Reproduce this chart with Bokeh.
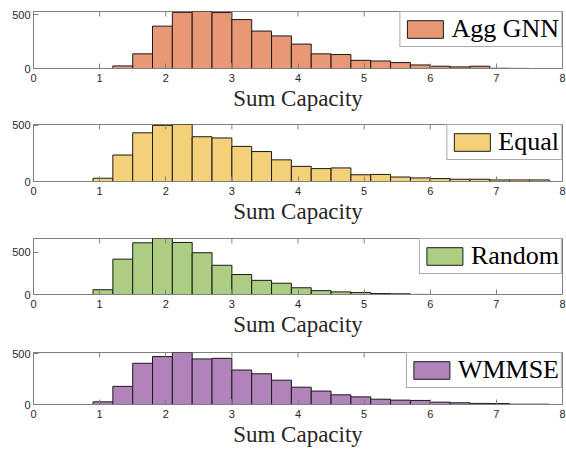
import math
from bokeh.plotting import figure
from bokeh.models import Range1d, FixedTicker, Legend, LegendItem, ColumnDataSource
from bokeh.layouts import column
from bokeh.embed import file_html
from bokeh.resources import INLINE

bin_left = [0.0, 0.3, 0.6, 0.9, 1.2, 1.5, 1.8, 2.1, 2.4, 2.7, 3.0, 3.3, 3.6,
            3.9, 4.2, 4.5, 4.8, 5.1, 5.4, 5.7, 6.0, 6.3, 6.6, 6.9, 7.2, 7.5]
bin_right = [0.3, 0.6, 0.9, 1.2, 1.5, 1.8, 2.1, 2.4, 2.7, 3.0, 3.3, 3.6, 3.9,
             4.2, 4.5, 4.8, 5.1, 5.4, 5.7, 6.0, 6.3, 6.6, 6.9, 7.2, 7.5, 7.8]

agg_gnn = [0, 0, 0, 0, 24, 136, 394, 522, 530, 520, 455, 348, 303,
           227, 136, 130, 76, 70, 55, 33, 21, 15, 21, 2, 1, 0]
equal = [0, 0, 0, 29, 236, 434, 500, 508, 399, 388, 313, 267, 193,
         135, 115, 121, 60, 63, 40, 32, 26, 20, 20, 14, 14, 14]
random_ = [0, 0, 0, 57, 420, 614, 665, 618, 496, 347, 237, 168, 134,
           80, 46, 31, 23, 11, 8, 1, 0, 0, 0, 0, 0, 0]
wmmse = [0, 0, 0, 26, 178, 405, 471, 511, 448, 454, 339, 302, 239,
         170, 132, 95, 75, 52, 43, 40, 23, 17, 11, 9, 3, 3]

series_names = ["Agg GNN", "Equal", "Random", "WMMSE"]
series_vals = [agg_gnn, equal, random_, wmmse]
colors = ["#E89875", "#F4D079", "#ADCD83", "#B282BB"]
y_max = [530, 508, 665, 511]
x_ticks = [0, 1, 2, 3, 4, 5, 6, 7, 8]
y_ticks = [0, 500]
x_lo, x_hi = 0, 8

# layout: (top border, bottom border, height)
geom = [(11, 43, 113), (11, 44, 113), (12, 43, 113), (13, 38, 110)]

AX = "#808080"
TXT = "#262626"

panels = []
for name, vals, col, ym, (T, B, H) in zip(series_names, series_vals, colors, y_max, geom):
    p = figure(width=566, height=H, x_range=Range1d(x_lo, x_hi), y_range=Range1d(0, ym),
               output_backend="svg", toolbar_location=None,
               min_border_left=33, min_border_right=4,
               min_border_top=T, min_border_bottom=B)
    src = ColumnDataSource(dict(left=bin_left, right=bin_right, top=vals))
    r = p.quad(left="left", right="right", bottom=0, top="top", source=src,
               fill_color=col, line_color="#1a1a1a", line_width=1)
    p.xgrid.visible = False
    p.ygrid.visible = False
    p.outline_line_color = AX
    p.outline_line_width = 1

    p.xaxis.ticker = FixedTicker(ticks=x_ticks)
    p.yaxis.ticker = FixedTicker(ticks=y_ticks)
    for ax in (p.xaxis[0], p.yaxis[0]):
        ax.axis_line_color = AX
        ax.major_tick_in = 5
        ax.major_tick_out = 0
        ax.major_tick_line_color = AX
        ax.minor_tick_line_color = None
        ax.major_label_text_font = "Liberation Sans"
        ax.major_label_text_font_size = "11px"
        ax.major_label_text_color = TXT
    p.xaxis.major_label_standoff = 5
    p.yaxis.major_label_standoff = 3
    p.xaxis.axis_label = "Sum Capacity"
    p.xaxis.axis_label_text_font = "Liberation Serif"
    p.xaxis.axis_label_text_font_style = "normal"
    p.xaxis.axis_label_text_font_size = "23px"
    p.xaxis.axis_label_text_color = TXT
    p.xaxis.axis_label_standoff = 1

    # inward tick marks on the top and right edges of the box (clipped half-dashes)
    p.scatter(x=x_ticks, y=[ym] * len(x_ticks), marker="dash", size=10,
              angle=math.pi / 2, line_color=AX, line_width=1)
    p.scatter(x=[x_hi] * len(y_ticks), y=y_ticks, marker="dash", size=10,
              line_color=AX, line_width=1)

    leg = Legend(items=[LegendItem(label=name, renderers=[r])], location="top_right",
                 margin=0, padding=2, spacing=0, label_standoff=4,
                 glyph_width=45, glyph_height=22,
                 label_text_font="Liberation Serif", label_text_font_size="26px",
                 label_text_color="#000000",
                 border_line_color="#555555", border_line_width=1,
                 background_fill_color="white", background_fill_alpha=1)
    p.add_layout(leg)
    panels.append(p)

layout = column(*panels, spacing=0)
open("out.html", "w").write(file_html(layout, INLINE))
